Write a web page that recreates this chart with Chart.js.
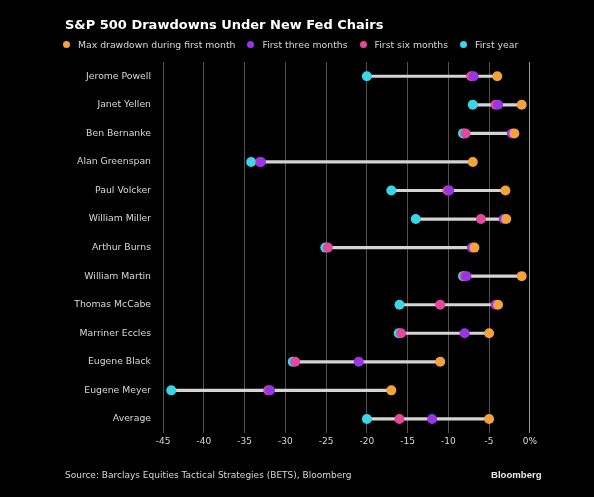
<!DOCTYPE html>
<html>
<head>
<meta charset="utf-8">
<script src="https://cdn.jsdelivr.net/npm/chart.js@4.4.1/dist/chart.umd.min.js"></script>
<style>
  html, body { margin:0; padding:0; background:#000; }
  #wrap { position:relative; width:594px; height:497px; overflow:hidden; font-family:"DejaVu Sans", sans-serif; }
  #chart { position:absolute; left:0; top:0; }
  #title { position:absolute; left:65px; top:17px; color:#fff; font-weight:bold; font-size:13px; line-height:15px; white-space:nowrap; }
  #legend { position:absolute; left:63px; top:39px; display:flex; align-items:center; color:#d8d8d8; font-size:9.3px; line-height:11px; white-space:nowrap; }
  #legend .item { display:flex; align-items:center; margin-right:12px; }
  #legend .dot { width:7px; height:7px; border-radius:50%; margin-right:8px; }
  #source { position:absolute; left:65px; top:470px; color:#d8d8d8; font-size:9px; line-height:11px; white-space:nowrap; }
  #brand { position:absolute; left:491px; top:469px; color:#e8e8e8; font-family:"Liberation Sans", sans-serif; font-size:9.6px; font-weight:bold; line-height:11px; }
</style>
</head>
<body>
<div id="wrap">
  <canvas id="chart" width="594" height="497"></canvas>
  <div id="title">S&amp;P 500 Drawdowns Under New Fed Chairs</div>
  <div id="legend"></div>
  <div id="source">Source: Barclays Equities Tactical Strategies (BETS), Bloomberg</div>
  <div id="brand">Bloomberg</div>
</div>
<script>
// --- Data ---
const chairs = ['Jerome Powell','Janet Yellen','Ben Bernanke','Alan Greenspan','Paul Volcker','William Miller',
  'Arthur Burns','William Martin','Thomas McCabe','Marriner Eccles','Eugene Black','Eugene Meyer','Average'];
const firstMonth  = [-4,   -1,   -1.9, -7,    -3,   -2.9, -6.8,  -1,   -3.9, -5,    -11,   -17,   -5];
const threeMonths = [-6.9, -3.9, -2.2, -33,   -9.9, -3.2, -7.1,  -7.8, -4.2, -8,    -21,   -31.9, -12];
const sixMonths   = [-7.2, -4.2, -7.9, -33.1, -10.1,-6,   -24.8, -8.0, -11,  -15.8, -28.8, -32.1, -16];
const firstYear   = [-20,  -7,   -8.2, -34.2, -17,  -14,  -25.1, -8.2, -16,  -16.1, -29.1, -44,   -20];
const xTicks = [-45,-40,-35,-30,-25,-20,-15,-10,-5,0];

const series = [
  {label:'Max drawdown during first month', data:firstMonth,  color:'#f3a23c'},
  {label:'First three months',              data:threeMonths, color:'#9a35e4'},
  {label:'First six months',                data:sixMonths,   color:'#e3489d'},
  {label:'First year',                      data:firstYear,   color:'#38d6e6'}
];

// legend
const legend = document.getElementById('legend');
series.forEach(s=>{
  const it=document.createElement('div');
  it.className='item';
  it.innerHTML=`<span class="dot" style="background:${s.color}"></span><span>${s.label}</span>`;
  legend.appendChild(it);
});

// range bars connecting dots
const ranges = chairs.map((c,i)=>{
  const vals = series.map(s=>s.data[i]);
  return [Math.min(...vals), Math.max(...vals)];
});

const datasets = series.map(s=>({
  type:'line',
  label:s.label,
  data:s.data,
  indexAxis:'y',
  showLine:false,
  pointRadius:5,
  pointHoverRadius:5,
  pointBorderWidth:0,
  pointBackgroundColor:s.color,
  borderColor:s.color,
  order:1
}));
datasets.push({
  type:'bar',
  label:'range',
  data:ranges,
  indexAxis:'y',
  backgroundColor:'#d4d4d4',
  barThickness:2.5,
  borderWidth:0,
  order:5
});

Chart.defaults.font.family = '"DejaVu Sans", sans-serif';

new Chart(document.getElementById('chart').getContext('2d'),{
  type:'bar',
  data:{labels:chairs, datasets:datasets},
  options:{
    responsive:false,
    animation:false,
    indexAxis:'y',
    layout:{padding:{left:64,right:56,top:62,bottom:47}},
    plugins:{legend:{display:false},tooltip:{enabled:false},title:{display:false}},
    scales:{
      x:{
        type:'linear', min:-46, max:1,
        afterBuildTicks:scale=>{ scale.ticks = xTicks.map(v=>({value:v})); },
        grid:{
          color:ctx=> (ctx.tick && ctx.tick.value===0) ? '#9a9a9a' : '#505050',
          lineWidth:1, drawTicks:false
        },
        border:{display:false},
        ticks:{color:'#d8d8d8', font:{size:9}, padding:3, callback:v=> v===0 ? '0%' : v}
      },
      y:{
        type:'category',
        afterFit:scale=>{ scale.width = 91; },
        grid:{display:false, drawTicks:false},
        border:{display:false},
        ticks:{color:'#d8d8d8', font:{size:9.3}, padding:4}
      }
    }
  }
});
</script>
</body>
</html>
